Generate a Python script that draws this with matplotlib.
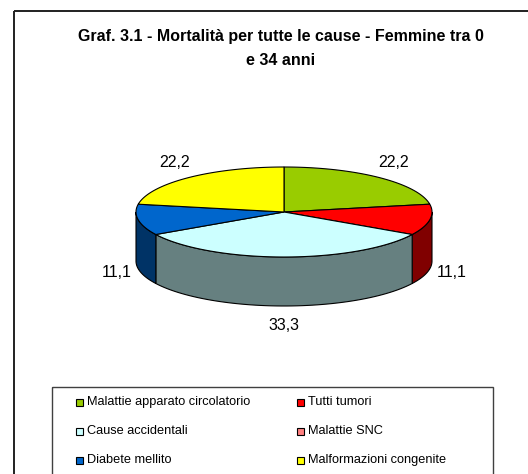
import numpy as np
import matplotlib
matplotlib.use("Agg")
import matplotlib.pyplot as plt
from matplotlib.patches import Polygon, Rectangle

causes = ["Malattie apparato circolatorio", "Tutti tumori", "Cause accidentali",
          "Malattie SNC", "Diabete mellito", "Malformazioni congenite"]
values = [22.2, 11.1, 33.3, 0.0, 11.1, 22.2]
labels = ["22,2", "11,1", "33,3", "", "11,1", "22,2"]
top_colors = ["#99CC00", "#FF0000", "#CCFFFF", "#FF8080", "#0066CC", "#FFFF00"]
side_colors = ["#4D6600", "#800000", "#668080", "#804040", "#003366", "#808000"]

title = "Graf. 3.1 - Mortalità per tutte le cause - Femmine tra 0\ne 34 anni"

W, H = 528, 474
fig = plt.figure(figsize=(W / 100, H / 100), dpi=100)
ax = fig.add_axes([0, 0, 1, 1])
ax.set_xlim(0, W)
ax.set_ylim(H, 0)
ax.axis("off")

plt.rcParams["font.family"] = ["Liberation Sans", "DejaVu Sans"]

# outer frame (runs off the right / bottom edge)
ax.add_patch(Rectangle((14, 11), 600, 600, fill=False, ec="#202020", lw=1.4))

ax.text(281, 48, title, ha="center", va="center", fontsize=11.5,
        fontweight="bold", linespacing=1.75)

# pseudo 3D pie
cx, cy, rx, ry, depth = 284, 212, 148, 45, 49


def pt(t, dy=0):
    return cx + rx * np.cos(np.radians(t)), cy - ry * np.sin(np.radians(t)) + dy


total = sum(values)
start = 90.0
slices = []
for v in values:
    sweep = 360.0 * v / total
    slices.append((start - sweep, start))
    start -= sweep

# side faces (front half only)
for (a0, a1), col in zip(slices, side_colors):
    if a1 - a0 <= 0:
        continue
    for k in (-1, 0, 1):
        lo = max(a0, -180 + 360 * k)
        hi = min(a1, 0 + 360 * k)
        if hi <= lo:
            continue
        ts = np.linspace(lo, hi, 60)
        top = [pt(t) for t in ts]
        bot = [pt(t, depth) for t in ts[::-1]]
        ax.add_patch(Polygon(top + bot, closed=True, fc=col, ec="black", lw=0.8))

# top faces
for (a0, a1), col in zip(slices, top_colors):
    if a1 - a0 <= 0:
        continue
    ts = np.linspace(a0, a1, 100)
    poly = [(cx, cy)] + [pt(t) for t in ts]
    ax.add_patch(Polygon(poly, closed=True, fc=col, ec="black", lw=0.8))

# data labels
for (a0, a1), lab in zip(slices, labels):
    if not lab:
        continue
    m = np.radians((a0 + a1) / 2)
    lx = cx + (rx + 22) * np.cos(m)
    ly = cy - (ry + 20) * np.sin(m) + (depth if np.sin(m) < 0 else 0)
    ax.text(lx, ly, lab, ha="center", va="center", fontsize=11.5)

# legend
ax.add_patch(Rectangle((52, 387), 441, 200, fill=False, ec="#404040", lw=1.0))
col_x = [79, 300]
row_y = [402, 431, 460]
for i, (name, col) in enumerate(zip(causes, top_colors)):
    x = col_x[i % 2]
    y = row_y[i // 2]
    ax.add_patch(Rectangle((x - 3.5, y - 3.5), 7, 7, fc=col, ec="black", lw=0.8))
    ax.text(x + 8, y, name, ha="left", va="center", fontsize=9.2)

fig.savefig("out.png", dpi=100)
